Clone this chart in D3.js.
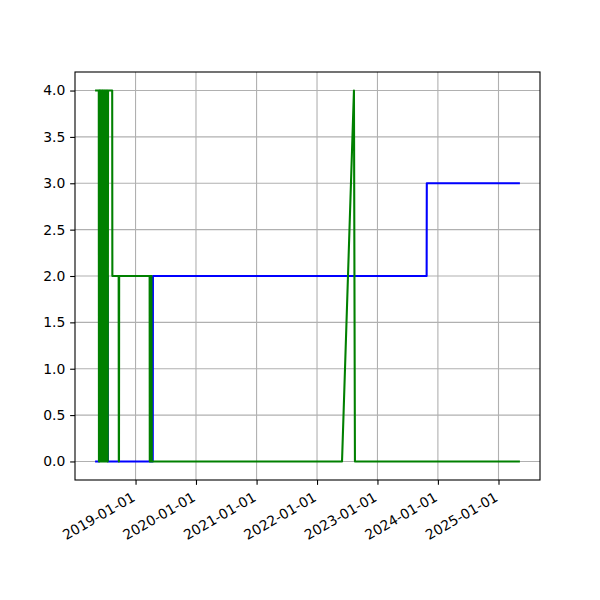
<!DOCTYPE html>
<html>
<head>
<meta charset="utf-8">
<script src="https://cdn.jsdelivr.net/npm/d3@7"></script>
<style>
body { margin: 0; background: #fff; }
svg { display: block; }
text { font-family: "DejaVu Sans", sans-serif; }
</style>
</head>
<body>
<svg id="chart" width="600" height="600"></svg>
<script>
// ---- data ----
const blueDates = [
  "2018-05-08","2018-05-26","2018-05-27","2018-07-17","2018-07-18",
  "2019-04-15","2019-04-16","2023-10-25","2023-10-26","2025-05-04"
];
const blueValues = [0,0,2,2,0, 0,2,2,3,3];

const greenDates = [
  "2018-05-08","2018-05-23",
  "2018-05-24","2018-05-25","2018-05-27","2018-05-28","2018-05-30","2018-06-01",
  "2018-06-03","2018-06-04","2018-06-06","2018-06-08","2018-06-10","2018-06-12",
  "2018-06-14","2018-06-15","2018-06-17","2018-06-19","2018-06-21","2018-06-23",
  "2018-06-25","2018-06-27","2018-06-29","2018-07-01","2018-07-03","2018-07-05",
  "2018-07-07","2018-07-09","2018-07-11","2018-07-13","2018-07-15","2018-07-17",
  "2018-07-19","2018-08-13","2018-08-14",
  "2018-09-21","2018-09-22","2018-09-23","2018-09-24",
  "2019-03-27","2019-03-28","2019-03-30","2019-04-01","2019-04-03","2019-04-05",
  "2019-04-07","2019-04-09","2019-04-14",
  "2022-06-01","2022-08-12","2022-08-18","2025-05-04"
];
const greenValues = [
  4,4,
  4,0,4,0,4,0,
  4,0,4,0,4,0,
  4,0,4,0,4,0,
  4,0,4,0,4,0,
  4,0,4,0,4,0,
  4,4,2,
  2,0,0,2,
  2,0,2,0,2,0,
  2,0,0,
  0,4,0,0
];
const yTicks = [0,0.5,1,1.5,2,2.5,3,3.5,4];
const xTickLabels = ["2019-01-01","2020-01-01","2021-01-01","2022-01-01","2023-01-01","2024-01-01","2025-01-01"];

// ---- build ----
const parse = d3.utcParse("%Y-%m-%d");
const blue = blueDates.map((d,i)=>({date:parse(d), value:blueValues[i]}));
const green = greenDates.map((d,i)=>({date:parse(d), value:greenValues[i]}));

const L = 75, R = 540, T = 72, B = 480;
const svg = d3.select("#chart");

const all = blue.concat(green);
const ext = d3.extent(all, d=>d.date.getTime());
const pad = (ext[1]-ext[0])*0.05;
const x = d3.scaleUtc().domain([new Date(ext[0]-pad), new Date(ext[1]+pad)]).range([L, R]);
const yExt = d3.extent(all, d=>d.value);
const yp = (yExt[1]-yExt[0])*0.05;
const y = d3.scaleLinear().domain([yExt[0]-yp, yExt[1]+yp]).range([B, T]);

const xTicks = xTickLabels.map(s=>parse(s));
const grid = "#b0b0b0";

// grid
svg.append("g").selectAll("line").data(xTicks).join("line")
  .attr("x1", d=>x(d)).attr("x2", d=>x(d)).attr("y1", T).attr("y2", B)
  .attr("stroke", grid).attr("stroke-width", 1.1);
svg.append("g").selectAll("line").data(yTicks).join("line")
  .attr("x1", L).attr("x2", R).attr("y1", d=>y(d)).attr("y2", d=>y(d))
  .attr("stroke", grid).attr("stroke-width", 1.1);

// clip
svg.append("clipPath").attr("id","clip").append("rect")
  .attr("x", L).attr("y", T).attr("width", R-L).attr("height", B-T);

const line = d3.line().x(d=>x(d.date)).y(d=>y(d.value));
const gl = svg.append("g").attr("clip-path","url(#clip)");
gl.append("path").datum(blue).attr("d", line).attr("fill","none")
  .attr("stroke","#0000ff").attr("stroke-width",2.08)
  .attr("stroke-linecap","square").attr("stroke-linejoin","round");
gl.append("path").datum(green).attr("d", line).attr("fill","none")
  .attr("stroke","#008000").attr("stroke-width",2.08)
  .attr("stroke-linecap","square").attr("stroke-linejoin","round");

// axes
const xAxis = d3.axisBottom(x).tickValues(xTicks).tickFormat(d3.utcFormat("%Y-%m-%d"))
  .tickSizeOuter(0).tickSize(4.86).tickPadding(4.86);
const gx = svg.append("g").attr("transform",`translate(0,${B})`).call(xAxis);
gx.select(".domain").remove();
gx.selectAll(".tick line").attr("stroke","#000").attr("stroke-width",1.1);
gx.selectAll(".tick text")
  .attr("font-size","13.9px").attr("fill","#000")
  .attr("text-anchor","end")
  .attr("y",0).attr("dy",0)
  .attr("transform","translate(0,20) rotate(-30)");

const yAxis = d3.axisLeft(y).tickValues(yTicks).tickFormat(d3.format(".1f"))
  .tickSizeOuter(0).tickSize(4.86).tickPadding(4.86);
const gy = svg.append("g").attr("transform",`translate(${L},0)`).call(yAxis);
gy.select(".domain").remove();
gy.selectAll(".tick line").attr("stroke","#000").attr("stroke-width",1.1);
gy.selectAll(".tick text").attr("font-size","13.9px").attr("fill","#000");

// frame
svg.append("rect").attr("x",L).attr("y",T).attr("width",R-L).attr("height",B-T)
  .attr("fill","none").attr("stroke","#000").attr("stroke-width",1.1);
</script>
</body>
</html>
